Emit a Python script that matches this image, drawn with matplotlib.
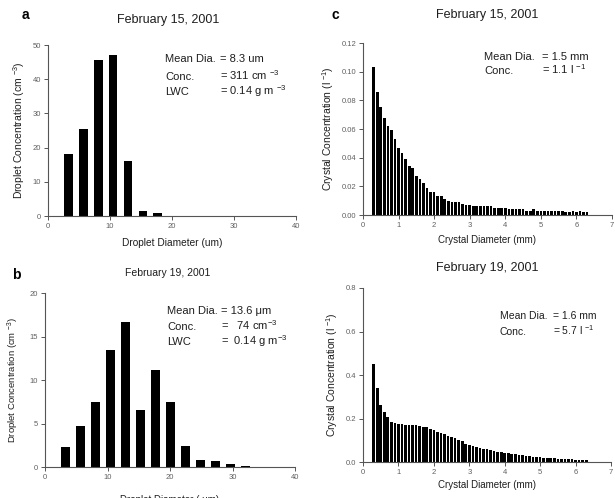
import matplotlib
matplotlib.use("Agg")
import matplotlib.pyplot as plt

plt.rcParams['font.family'] = ['Liberation Sans', 'DejaVu Sans']
plt.rcParams['mathtext.default'] = 'regular'

# ---- data ----
drop_a_x = [3.3, 5.7, 8.1, 10.5, 12.9, 15.3, 17.7]
drop_a_y = [18, 25.5, 45.5, 47, 16, 1.5, 0.8]

drop_b_x = [3.3, 5.7, 8.1, 10.5, 12.9, 15.3, 17.7, 20.1, 22.5, 24.9, 27.3, 29.7, 32.1]
drop_b_y = [2.3, 4.7, 7.5, 13.4, 16.7, 6.6, 11.1, 7.5, 2.4, 0.8, 0.7, 0.4, 0.1]

cryst_x = [0.3, 0.4, 0.5, 0.6, 0.7, 0.8, 0.9, 1.0, 1.1, 1.2, 1.3, 1.4, 1.5, 1.6, 1.7, 1.8,
           1.9, 2.0, 2.1, 2.2, 2.3, 2.4, 2.5, 2.6, 2.7, 2.8, 2.9, 3.0, 3.1, 3.2, 3.3, 3.4,
           3.5, 3.6, 3.7, 3.8, 3.9, 4.0, 4.1, 4.2, 4.3, 4.4, 4.5, 4.6, 4.7, 4.8, 4.9, 5.0,
           5.1, 5.2, 5.3, 5.4, 5.5, 5.6, 5.7, 5.8, 5.9, 6.0, 6.1, 6.2, 6.3]
cryst_c_y = [0.103, 0.086, 0.075, 0.068, 0.062, 0.059, 0.053, 0.047, 0.043, 0.039, 0.034,
             0.033, 0.027, 0.025, 0.022, 0.019, 0.016, 0.016, 0.013, 0.013, 0.011, 0.010,
             0.009, 0.009, 0.009, 0.008, 0.007, 0.007, 0.006, 0.006, 0.006, 0.006, 0.006,
             0.006, 0.005, 0.005, 0.005, 0.005, 0.004, 0.004, 0.004, 0.004, 0.004, 0.003,
             0.003, 0.004, 0.003, 0.003, 0.003, 0.003, 0.003, 0.003, 0.003, 0.003, 0.002,
             0.002, 0.003, 0.002, 0.003, 0.002, 0.002]
cryst_d_y = [0.45, 0.34, 0.26, 0.23, 0.205, 0.185, 0.18, 0.175, 0.175, 0.17, 0.17, 0.17,
             0.17, 0.165, 0.16, 0.16, 0.15, 0.145, 0.14, 0.135, 0.13, 0.12, 0.115, 0.11,
             0.10, 0.095, 0.085, 0.08, 0.075, 0.07, 0.065, 0.06, 0.058, 0.055, 0.05, 0.048,
             0.045, 0.042, 0.04, 0.038, 0.035, 0.033, 0.03, 0.028, 0.026, 0.025, 0.024,
             0.022, 0.02, 0.02, 0.018, 0.017, 0.016, 0.015, 0.014, 0.013, 0.012, 0.011,
             0.01, 0.009, 0.008]

TXT = "#1e1e1e"
TICK = "#606060"

fig = plt.figure(figsize=(6.15, 4.98), dpi=100)

def px_axes(x0, x1, ytop, ybot):
    W, H = 615, 498
    return fig.add_axes([x0 / W, 1 - ybot / H, (x1 - x0) / W, (ybot - ytop) / H])

def style(ax):
    for s in ("top", "right"):
        ax.spines[s].set_visible(False)
    for s in ("left", "bottom"):
        ax.spines[s].set_color("#555555")
        ax.spines[s].set_linewidth(0.8)
    ax.tick_params(direction="out", length=3, width=0.7, colors="#555555",
                   labelsize=5.5, labelcolor=TICK, pad=2)

def notes(ax, xl, xe, rows, size):
    for y, a, b in rows:
        ax.text(xl, y, a, transform=ax.transAxes, fontsize=size, color=TXT, va="baseline")
        ax.text(xe, y, b, transform=ax.transAxes, fontsize=size, color=TXT, va="baseline")

# ---- panel a ----
axa = px_axes(48, 296, 45, 216)
axa.bar(drop_a_x, drop_a_y, width=1.4, color="black")
axa.set_xlim(0, 40); axa.set_ylim(0, 50)
axa.set_xticks([0, 10, 20, 30, 40]); axa.set_yticks([0, 10, 20, 30, 40, 50])
style(axa)
axa.set_xlabel("Droplet Diameter (um)", fontsize=7.3, color=TXT, labelpad=6)
axa.set_ylabel("Droplet Concentration (cm $^{-3}$)", fontsize=7.5, color=TXT, labelpad=4)
notes(axa, 0.472, 0.694,
      [(0.90, "Mean Dia.", "= 8.3 um"), (0.795, "Conc.", "= 311 cm $^{-3}$"),
       (0.705, "LWC", "= 0.14 g m $^{-3}$")], 8)

# ---- panel b ----
axb = px_axes(45, 295, 293, 467)
axb.bar(drop_b_x, drop_b_y, width=1.4, color="black")
axb.set_xlim(0, 40); axb.set_ylim(0, 20)
axb.set_xticks([0, 10, 20, 30, 40]); axb.set_yticks([0, 5, 10, 15, 20])
style(axb)
axb.set_xlabel("Droplet Diameter ( \u03bcm)", fontsize=7, color=TXT, labelpad=10)
axb.set_ylabel("Droplet Concentration (cm $^{-3}$)", fontsize=6.8, color=TXT, labelpad=6)
notes(axb, 0.488, 0.704,
      [(0.879, "Mean Dia.", "= 13.6 \u03bcm"), (0.787, "Conc.", "=   74 cm$^{-3}$"),
       (0.701, "LWC", "=  0.14 g m$^{-3}$")], 8)

# ---- panel c ----
axc = px_axes(363, 612, 43, 215)
axc.bar(cryst_x, cryst_c_y, width=0.075, color="black", align="center")
axc.set_xlim(0, 7); axc.set_ylim(0, 0.12)
axc.set_xticks(range(8)); axc.set_yticks([0, 0.02, 0.04, 0.06, 0.08, 0.10, 0.12])
axc.set_yticklabels(["0.00", "0.02", "0.04", "0.06", "0.08", "0.10", "0.12"])
style(axc)
axc.set_xlabel("Crystal Diameter (mm)", fontsize=7, color=TXT, labelpad=4)
axc.set_ylabel("Crystal Concentration (l $^{-1}$)", fontsize=7.5, color=TXT, labelpad=4)
notes(axc, 0.486, 0.72,
      [(0.901, "Mean Dia.", "= 1.5 mm"), (0.820, "Conc.", "= 1.1 l $^{-1}$")], 8)

# ---- panel d ----
axd = px_axes(363, 611, 288, 462)
axd.bar(cryst_x, cryst_d_y, width=0.075, color="black", align="center")
axd.set_xlim(0, 7); axd.set_ylim(0, 0.8)
axd.set_xticks(range(8)); axd.set_yticks([0, 0.2, 0.4, 0.6, 0.8])
axd.set_yticklabels(["0.0", "0.2", "0.4", "0.6", "0.8"])
style(axd)
axd.set_xlabel("Crystal Diameter (mm)", fontsize=7, color=TXT, labelpad=3)
axd.set_ylabel("Crystal Concentration (l $^{-1}$)", fontsize=7.5, color=TXT, labelpad=4)
notes(axd, 0.552, 0.766,
      [(0.82, "Mean Dia.", "= 1.6 mm"), (0.732, "Conc.", "= 5.7 l $^{-1}$")], 7.5)

# ---- titles & panel labels ----
def ftext(x, y, s, **kw):
    fig.text(x / 615, 1 - y / 498, s, **kw)

ftext(168, 20, "February 15, 2001", fontsize=9, color=TXT, ha="center", va="center")
ftext(168, 273, "February 19, 2001", fontsize=7.5, color=TXT, ha="center", va="center")
ftext(487, 15, "February 15, 2001", fontsize=9, color=TXT, ha="center", va="center")
ftext(487, 268, "February 19, 2001", fontsize=9, color=TXT, ha="center", va="center")
ftext(25, 15, "a", fontsize=10, fontweight="bold", color="black", ha="center", va="center")
ftext(16, 275, "b", fontsize=10, fontweight="bold", color="black", ha="center", va="center")
ftext(335, 15, "c", fontsize=10, fontweight="bold", color="black", ha="center", va="center")

fig.savefig("out.png", dpi=100)
